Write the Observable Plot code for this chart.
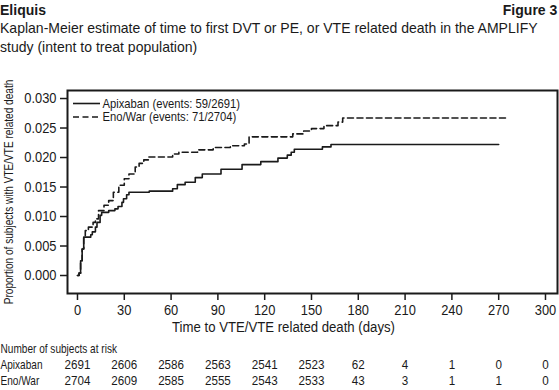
<!DOCTYPE html>
<html>
<head>
<meta charset="utf-8">
<script src="https://cdn.jsdelivr.net/npm/d3@7"></script>
<script src="https://cdn.jsdelivr.net/npm/@observablehq/plot@0.6"></script>
<style>
  body { margin: 0; background: #fff; width: 559px; height: 390px; overflow: hidden; position: relative;
         font-family: "Liberation Sans", Arial, sans-serif; color: #1a1a1a; }
  .t { position: absolute; white-space: nowrap; font-size: 15px; line-height: 18px; transform: scaleX(0.935); }
  .b { font-weight: bold; }
  #main { position: absolute; left: 0; top: 70px; }
  #legend { position: absolute; left: 0; top: 0; }
  #table { position: absolute; left: 0; top: 333px; }
</style>
</head>
<body>
<div class="t b" style="left:0; top:1px; transform-origin: left top;">Eliquis</div>
<div class="t b" style="right:2px; top:1px; transform-origin: right top;">Figure 3</div>
<div class="t" style="left:0; top:19px; transform-origin: left top;">Kaplan-Meier estimate of time to first DVT or PE, or VTE related death in the AMPLIFY</div>
<div class="t" style="left:0; top:38px; transform-origin: left top;">study (intent to treat population)</div>
<div id="main"></div>
<svg id="legend" width="559" height="140"></svg>
<div id="table"></div>
<script>
// ---- Data ----
const seriesNames = ["Apixaban", "Eno/War"];
const legendLabels = ["Apixaban (events: 59/2691)", "Eno/War (events: 71/2704)"];
const apixDays = [0, 1, 2, 3, 4, 8.5, 9.5, 11.5, 12.5, 14.5, 15.5, 20, 24, 26, 28.5, 29.5, 31.5, 33, 46, 61, 64, 69, 75.5, 80, 92, 105.5, 117.5, 128.5, 134.5, 137, 139, 157, 162.5, 270];
const apixProp = [0, 0.0004, 0.0025, 0.0045, 0.0065, 0.0069, 0.0074, 0.0082, 0.0090, 0.0102, 0.0107, 0.0110, 0.0113, 0.0117, 0.0124, 0.0130, 0.0137, 0.0141, 0.0143, 0.0147, 0.0154, 0.0158, 0.0166, 0.0172, 0.0180, 0.0188, 0.0193, 0.0199, 0.0204, 0.0209, 0.0214, 0.0218, 0.0222, 0.0222];
const enoDays = [0, 1, 2, 3, 4, 5, 7, 10, 11.5, 13.5, 17, 20, 23, 26.5, 30, 33, 37, 39.5, 42.5, 45.5, 61, 65, 77, 87, 98, 107, 110, 138, 145, 150, 158, 167, 170, 275];
const enoProp = [0, 0.0004, 0.0025, 0.0045, 0.0066, 0.0076, 0.0082, 0.0090, 0.0096, 0.0110, 0.0119, 0.0127, 0.0141, 0.0153, 0.0164, 0.0172, 0.0184, 0.0190, 0.0196, 0.0201, 0.0206, 0.0209, 0.0213, 0.0217, 0.0220, 0.0223, 0.0235, 0.0240, 0.0245, 0.0249, 0.0254, 0.0260, 0.0267, 0.0267];
const xTicks = [0, 30, 60, 90, 120, 150, 180, 210, 240, 270, 300];
const yTicks = [0, 0.005, 0.010, 0.015, 0.020, 0.025, 0.030];
const riskHeader = "Number of subjects at risk";
const riskApix = [2691, 2606, 2586, 2563, 2541, 2523, 62, 4, 1, 0, 0];
const riskEno = [2704, 2609, 2585, 2555, 2543, 2533, 43, 3, 1, 1, 0];
const xLabel = "Time to VTE/VTE related death (days)";
const yLabel = "Proportion of subjects with VTE/VTE related death";

const FONT = '"Liberation Sans", Arial, sans-serif';
const ink = "#1a1a1a";
const xDomain = [-6.4, 307.7];

// horizontally condense svg texts (the reference uses a condensed typeface)
function condense(root, sLetters, sDigits) {
  root.querySelectorAll("text").forEach(t => {
    const txt = t.textContent.trim();
    let s = /^[\d.,\s]+$/.test(txt) ? sDigits : sLetters;
    if (txt === yLabel) s = 0.84;
    const x = parseFloat(t.getAttribute("x")) || 0;
    const tr = t.getAttribute("transform") || "";
    t.setAttribute("transform", `${tr} translate(${x},0) scale(${s},1) translate(${-x},0)`);
  });
}

const apix = apixDays.map((d, i) => ({day: d, p: apixProp[i], s: seriesNames[0]}));
const eno = enoDays.map((d, i) => ({day: d, p: enoProp[i], s: seriesNames[1]}));

const main = Plot.plot({
  width: 559, height: 270,
  marginLeft: 67, marginRight: 2, marginTop: 20, marginBottom: 47,
  style: {fontFamily: FONT, fontSize: "15px", color: ink, background: "transparent", overflow: "visible"},
  x: {domain: xDomain},
  y: {domain: [-0.00305, 0.03136]},
  marks: [
    Plot.line(apix, {x: "day", y: "p", curve: "step-after", stroke: ink, strokeWidth: 1.6}),
    Plot.line(eno, {x: "day", y: "p", curve: "step-after", stroke: ink, strokeWidth: 1.6, strokeDasharray: "6,3.5"}),
    Plot.frame({stroke: ink, strokeWidth: 2}),
    Plot.axisX({ticks: xTicks, tickSize: 7, tickPadding: 4, tickFormat: d3.format("d"), label: null, stroke: ink, strokeWidth: 1.5}),
    Plot.axisY({ticks: yTicks, tickSize: 7, tickPadding: 4, tickFormat: d3.format(".3f"), label: null, stroke: ink, strokeWidth: 1.5}),
    Plot.text([yLabel], {text: d => d, frameAnchor: "left", textAnchor: "middle", lineAnchor: "middle", rotate: -90, dx: -58, fontSize: 12, fill: ink}),
    Plot.text([xLabel], {text: d => d, frameAnchor: "bottom", dx: -29, dy: 38, fontSize: 15, fill: ink})
  ]
});
condense(main, 0.88, 0.86);
document.getElementById("main").appendChild(main);

// Legend overlay (inside plot frame, top-left)
const lg = d3.select("#legend");
legendLabels.forEach((lab, i) => {
  const y = 103.5 + i * 13.5;
  lg.append("line").attr("x1", 73).attr("x2", 100).attr("y1", y).attr("y2", y)
    .attr("stroke", ink).attr("stroke-width", 1.6)
    .attr("stroke-dasharray", i === 1 ? "6,3.5" : null);
  lg.append("text").attr("x", 102.5).attr("y", y).attr("dy", "0.35em")
    .attr("font-family", FONT).attr("font-size", 12.5).attr("fill", ink).text(lab);
});
condense(document.getElementById("legend"), 0.9, 0.9);

// Risk table
const rows = [riskHeader, seriesNames[0], seriesNames[1]];
const cells = [];
xTicks.forEach((t, i) => {
  cells.push({t, row: seriesNames[0], n: riskApix[i]});
  cells.push({t, row: seriesNames[1], n: riskEno[i]});
});
const table = Plot.plot({
  width: 559, height: 57,
  marginLeft: 67, marginRight: 2, marginTop: 0, marginBottom: 0,
  style: {fontFamily: FONT, fontSize: "12px", color: ink, background: "transparent", overflow: "visible"},
  x: {domain: xDomain, axis: null},
  y: {type: "point", domain: rows, range: [15, 48], padding: 0, axis: null},
  marks: [
    Plot.text(rows, {y: d => d, text: d => d, frameAnchor: "left", textAnchor: "start", dx: -67, fill: ink, fontSize: 12}),
    Plot.text(cells, {x: "t", y: "row", text: d => String(d.n), fill: ink, fontSize: 12})
  ]
});
condense(table, 0.84, 0.97);
document.getElementById("table").appendChild(table);
</script>
</body>
</html>
